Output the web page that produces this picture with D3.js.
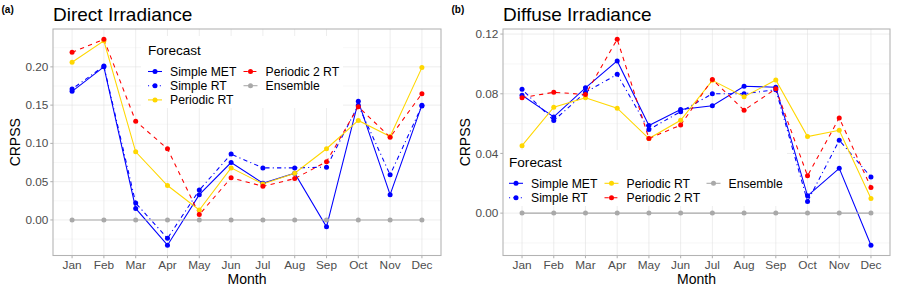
<!DOCTYPE html>
<html>
<head>
<meta charset="utf-8">
<script src="https://cdn.jsdelivr.net/npm/d3@7"></script>
<style>
  body { margin: 0; background: #fff; }
  svg { font-family: "Liberation Sans", Arial, sans-serif; }
</style>
</head>
<body>
<div id="chart"></div>
<script>
var MONTHS = ["Jan", "Feb", "Mar", "Apr", "May", "Jun", "Jul", "Aug", "Sep", "Oct", "Nov", "Dec"];
var FORECASTS = ["Simple MET", "Simple RT", "Periodic RT", "Periodic 2 RT", "Ensemble"];

// Direct irradiance CRPSS
var DIRECT_SIMPLE_MET = [0.168, 0.200, 0.015, -0.033, 0.033, 0.075, 0.048, 0.061, -0.009, 0.155, 0.033, 0.150];
var DIRECT_SIMPLE_RT = [0.171, 0.201, 0.022, -0.024, 0.039, 0.086, 0.068, 0.068, 0.069, 0.150, 0.059, 0.149];
var DIRECT_PERIODIC_RT = [0.206, 0.234, 0.089, 0.045, 0.013, 0.068, 0.047, 0.061, 0.093, 0.130, 0.109, 0.199];
var DIRECT_PERIODIC_2_RT = [0.219, 0.236, 0.129, 0.093, 0.007, 0.055, 0.044, 0.054, 0.076, 0.148, 0.108, 0.165];
var DIRECT_ENSEMBLE = [0, 0, 0, 0, 0, 0, 0, 0, 0, 0, 0, 0];

// Diffuse irradiance CRPSS
var DIFFUSE_SIMPLE_MET = [0.079, 0.0645, 0.084, 0.102, 0.0587, 0.0694, 0.072, 0.085, 0.0844, 0.0116, 0.030, -0.0215];
var DIFFUSE_SIMPLE_RT = [0.083, 0.062, 0.081, 0.093, 0.056, 0.068, 0.080, 0.080, 0.0827, 0.0078, 0.0488, 0.0242];
var DIFFUSE_PERIODIC_RT = [0.0452, 0.071, 0.0773, 0.0703, 0.050, 0.0622, 0.089, 0.078, 0.0892, 0.0513, 0.0555, 0.0098];
var DIFFUSE_PERIODIC_2_RT = [0.0773, 0.081, 0.0795, 0.1165, 0.050, 0.059, 0.0896, 0.069, 0.0833, 0.025, 0.0638, 0.0172];
var DIFFUSE_ENSEMBLE = [0, 0, 0, 0, 0, 0, 0, 0, 0, 0, 0, 0];

var DIRECT_TICKS = [0, 0.05, 0.10, 0.15, 0.20];
var DIFFUSE_TICKS = [0, 0.04, 0.08, 0.12];

var STYLES = {
  "Simple MET":    { color: "#0000ff", dash: null },
  "Simple RT":     { color: "#0000ff", dash: "1.1,3.2,4.3,3.2" },
  "Periodic RT":   { color: "#ffd700", dash: null },
  "Periodic 2 RT": { color: "#ff0000", dash: "4.3,4.3" },
  "Ensemble":      { color: "#a9a9a9", dash: null }
};

var WIDTH = 899, HEIGHT = 295;
var svg = d3.select("#chart").append("svg")
    .attr("width", WIDTH)
    .attr("height", HEIGHT);

function DrawPanel(opts) {
  var left = opts.left, right = opts.right, top = 29, bottom = 255.5;
  var g = svg.append("g");

  var all_values = d3.merge(opts.series.map(function(s) { return s.values; }));
  var lo = d3.min(all_values), hi = d3.max(all_values);
  var pad = (hi - lo) * 0.05;

  var x = d3.scalePoint().domain(MONTHS).range([left, right]).padding(0.6);
  var y = d3.scaleLinear().domain([lo - pad, hi + pad]).range([bottom, top]);

  // grid: minor first then major
  var step = opts.ticks[1] - opts.ticks[0];
  var minor = [];
  for (var v = opts.ticks[0] - step / 2; v <= hi + pad; v += step) {
    if (v >= lo - pad) minor.push(v);
  }
  g.selectAll(".minor").data(minor).enter().append("line")
      .attr("x1", left).attr("x2", right)
      .attr("y1", y).attr("y2", y)
      .attr("stroke", "#f0f0f0").attr("stroke-width", 0.55);
  g.selectAll(".major-y").data(opts.ticks).enter().append("line")
      .attr("x1", left).attr("x2", right)
      .attr("y1", y).attr("y2", y)
      .attr("stroke", "#dedede").attr("stroke-width", 0.55);
  g.selectAll(".major-x").data(MONTHS).enter().append("line")
      .attr("x1", x).attr("x2", x)
      .attr("y1", top).attr("y2", bottom)
      .attr("stroke", "#dedede").attr("stroke-width", 0.55);

  var line = d3.line()
      .x(function(d, i) { return x(MONTHS[i]); })
      .y(function(d) { return y(d); });

  opts.series.forEach(function(s) {
    var st = STYLES[s.name];
    g.append("path")
        .attr("d", line(s.values))
        .attr("fill", "none")
        .attr("stroke", st.color)
        .attr("stroke-width", 1.07)
        .attr("stroke-dasharray", st.dash);
  });
  opts.series.forEach(function(s) {
    g.selectAll(null).data(s.values).enter().append("circle")
        .attr("cx", function(d, i) { return x(MONTHS[i]); })
        .attr("cy", y)
        .attr("r", 2.5)
        .attr("fill", STYLES[s.name].color);
  });

  // legend
  var lg = opts.legend;
  g.append("rect")
      .attr("x", lg.box[0]).attr("y", lg.box[1])
      .attr("width", lg.box[2]).attr("height", lg.box[3])
      .attr("fill", "#fff");
  g.append("text")
      .attr("x", lg.title[0]).attr("y", lg.title[1])
      .attr("font-size", 13.6).attr("fill", "#000")
      .text("Forecast");
  lg.items.forEach(function(it) {
    var st = STYLES[it.name];
    g.append("line")
        .attr("x1", it.x - 7).attr("x2", it.x + 7)
        .attr("y1", it.y).attr("y2", it.y)
        .attr("stroke", st.color).attr("stroke-width", 1.07)
        .attr("stroke-dasharray", st.dash);
    g.append("circle")
        .attr("cx", it.x).attr("cy", it.y).attr("r", 2.5)
        .attr("fill", st.color);
    g.append("text")
        .attr("x", it.x + 15).attr("y", it.y + 4.3)
        .attr("font-size", 12.2).attr("fill", "#000")
        .text(it.name);
  });

  // panel border
  g.append("rect")
      .attr("x", left).attr("y", top)
      .attr("width", right - left).attr("height", bottom - top)
      .attr("fill", "none").attr("stroke", "#b3b3b3").attr("stroke-width", 1.07);

  // ticks and labels
  g.selectAll(".ytick").data(opts.ticks).enter().append("line")
      .attr("x1", left - 2.7).attr("x2", left)
      .attr("y1", y).attr("y2", y)
      .attr("stroke", "#b3b3b3").attr("stroke-width", 1.07);
  g.selectAll(".ylab").data(opts.ticks).enter().append("text")
      .attr("x", left - 4.6)
      .attr("y", function(d) { return y(d) + 4.1; })
      .attr("text-anchor", "end")
      .attr("font-size", 11.8).attr("fill", "#4d4d4d")
      .text(function(d) { return d3.format(opts.fmt)(d); });
  g.selectAll(".xtick").data(MONTHS).enter().append("line")
      .attr("x1", x).attr("x2", x)
      .attr("y1", bottom).attr("y2", bottom + 2.7)
      .attr("stroke", "#b3b3b3").attr("stroke-width", 1.07);
  g.selectAll(".xlab").data(MONTHS).enter().append("text")
      .attr("x", x).attr("y", 268.5)
      .attr("text-anchor", "middle")
      .attr("font-size", 11.8).attr("fill", "#4d4d4d")
      .text(function(d) { return d; });

  g.append("text")
      .attr("x", (left + right) / 2).attr("y", 283.5)
      .attr("text-anchor", "middle").attr("font-size", 14)
      .text("Month");
  g.append("text")
      .attr("transform", "translate(" + (opts.panelX + 19.5) + "," + ((top + bottom) / 2) + ") rotate(-90)")
      .attr("text-anchor", "middle").attr("font-size", 14)
      .text("CRPSS");
  g.append("text")
      .attr("x", left).attr("y", 21)
      .attr("font-size", 19).text(opts.title);
  g.append("text")
      .attr("x", opts.panelX + 1.5).attr("y", 12.5)
      .attr("font-size", 10).attr("font-weight", "bold")
      .text(opts.tag);
}

DrawPanel({
  panelX: 0, left: 53, right: 441,
  title: "Direct Irradiance", tag: "(a)",
  ticks: DIRECT_TICKS, fmt: ".2f",
  series: [
    { name: "Simple MET", values: DIRECT_SIMPLE_MET },
    { name: "Simple RT", values: DIRECT_SIMPLE_RT },
    { name: "Periodic RT", values: DIRECT_PERIODIC_RT },
    { name: "Periodic 2 RT", values: DIRECT_PERIODIC_2_RT },
    { name: "Ensemble", values: DIRECT_ENSEMBLE }
  ],
  legend: {
    box: [141, 36, 202, 72],
    title: [148, 55],
    items: [
      { name: "Simple MET", x: 155, y: 71.5 },
      { name: "Simple RT", x: 155, y: 85.7 },
      { name: "Periodic RT", x: 155, y: 99.9 },
      { name: "Periodic 2 RT", x: 250.5, y: 71.5 },
      { name: "Ensemble", x: 250.5, y: 85.7 }
    ]
  }
});

DrawPanel({
  panelX: 450, left: 503, right: 890,
  title: "Diffuse Irradiance", tag: "(b)",
  ticks: DIFFUSE_TICKS, fmt: ".2f",
  series: [
    { name: "Simple MET", values: DIFFUSE_SIMPLE_MET },
    { name: "Simple RT", values: DIFFUSE_SIMPLE_RT },
    { name: "Periodic RT", values: DIFFUSE_PERIODIC_RT },
    { name: "Periodic 2 RT", values: DIFFUSE_PERIODIC_2_RT },
    { name: "Ensemble", values: DIFFUSE_ENSEMBLE }
  ],
  legend: {
    box: [503, 150, 284, 56],
    title: [509, 167.3],
    items: [
      { name: "Simple MET", x: 516, y: 183.3 },
      { name: "Simple RT", x: 516, y: 197.7 },
      { name: "Periodic RT", x: 611.5, y: 183.3 },
      { name: "Periodic 2 RT", x: 611.5, y: 197.7 },
      { name: "Ensemble", x: 713.5, y: 183.3 }
    ]
  }
});
</script>
</body>
</html>
